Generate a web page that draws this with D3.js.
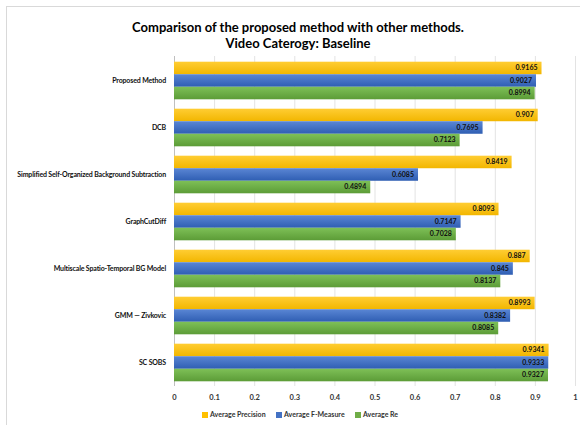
<!DOCTYPE html>
<html><head><meta charset="utf-8">
<script src="https://cdn.jsdelivr.net/npm/d3@7"></script>
<style>body{margin:0;background:#fff;} svg{display:block;}</style>
</head><body>
<script>
const categories = ["Proposed Method","DCB","Simplified Self-Organized Background Subtraction","GraphCutDiff","Multiscale Spatio-Temporal BG Model","GMM \u2014 Zivkovic","SC SOBS"];
const seriesNames = ["Average Precision","Average F-Measure","Average Re"];
const precision = [0.9165,0.907,0.8419,0.8093,0.887,0.8993,0.9341];
const fMeasure  = [0.9027,0.7695,0.6085,0.7147,0.845,0.8382,0.9333];
const recall    = [0.8994,0.7123,0.4894,0.7028,0.8137,0.8085,0.9327];
const ticks = [0,0.1,0.2,0.3,0.4,0.5,0.6,0.7,0.8,0.9,1];
const series = [precision,fMeasure,recall];
const colors = [["#FFCD33","#F2B600"],["#5A86D4","#2F5EB3"],["#7EC057","#5C9C37"]];
const legendColors = ["#FFC000","#4472C4","#70AD47"];

const W=580,H=425;
const svg=d3.select("body").append("svg").attr("width",W).attr("height",H);
const font="Lato, 'Open Sans', sans-serif";
const defs=svg.append("defs");
colors.forEach((c,i)=>{
  const g=defs.append("linearGradient").attr("id","g"+i).attr("x1",0).attr("y1",0).attr("x2",0).attr("y2",1);
  g.append("stop").attr("offset","0%").attr("stop-color",c[0]);
  g.append("stop").attr("offset","100%").attr("stop-color",c[1]);
});
svg.append("rect").attr("x",6.5).attr("y",6.5).attr("width",W).attr("height",H).attr("fill","#fff").attr("stroke","#D9D9D9");

const x=d3.scaleLinear().domain([0,1]).range([174,575]);
const y=d3.scaleBand().domain(categories).range([57,386]).paddingInner(0.2).paddingOuter(0.1);
const y1=d3.scaleBand().domain(seriesNames).range([0,y.bandwidth()]);

svg.append("text").attr("x",298).attr("y",32).attr("text-anchor","middle").attr("font-family",font).attr("font-weight","bold").attr("font-size",13).attr("fill","#000").text("Comparison of the proposed method with other methods.");
svg.append("text").attr("x",298).attr("y",47.5).attr("text-anchor","middle").attr("font-family",font).attr("font-weight","bold").attr("font-size",13).attr("fill","#000").text("Video Caterogy: Baseline");

// gridlines
const grid=svg.append("g");
grid.selectAll("line").data(ticks).join("line")
  .attr("x1",d=>x(d)+0.5).attr("x2",d=>x(d)+0.5).attr("y1",56).attr("y2",386)
  .attr("stroke",(d)=>d===0?"#BFBFBF":"#E3E3E3").attr("stroke-width",1);

// axis labels
const xAxis=d3.axisBottom(x).tickValues(ticks).tickFormat(d=>d3.format("")(d)).tickSize(0).tickPadding(0);
const ax=svg.append("g").attr("transform","translate(0,398)").call(xAxis);
ax.select(".domain").remove();
ax.selectAll("text").attr("font-family",font).attr("font-weight","bold").attr("font-size",7.5).attr("fill","#333").attr("dy","0.2em");

const yAxis=d3.axisLeft(y).tickSize(0).tickPadding(8);
const ay=svg.append("g").attr("transform","translate(174,0)").call(yAxis);
ay.select(".domain").remove();
ay.selectAll("text").attr("font-family",font).attr("font-weight","bold").attr("font-size",7).attr("letter-spacing","-0.15px").attr("fill","#111");

const groups=svg.append("g").selectAll("g").data(categories).join("g").attr("transform",d=>`translate(0,${y(d)})`);
series.forEach((vals,si)=>{
  groups.append("rect").attr("x",x(0)).attr("y",y1(seriesNames[si]))
    .attr("width",(d,i)=>x(vals[i])-x(0)).attr("height",y1.bandwidth())
    .attr("fill",`url(#g${si})`);
  groups.append("text").attr("x",(d,i)=>x(vals[i])-4).attr("y",y1(seriesNames[si])+y1.bandwidth()/2)
    .attr("dy","0.35em").attr("text-anchor","end").attr("font-family",font).attr("font-weight","bold")
    .attr("font-size",7).attr("fill","#111").text((d,i)=>vals[i]);
});

// legend
const lx=[202,276,355];
const leg=svg.append("g").selectAll("g").data(seriesNames).join("g").attr("transform",(d,i)=>`translate(${lx[i]},415)`);
leg.append("rect").attr("x",0).attr("y",-3).attr("width",6).attr("height",6).attr("fill",(d,i)=>legendColors[i]);
leg.append("text").attr("x",8).attr("y",0).attr("dy","0.35em").attr("font-family",font).attr("font-weight","bold").attr("font-size",7).attr("fill","#333").text(d=>d);
</script>
</body></html>
